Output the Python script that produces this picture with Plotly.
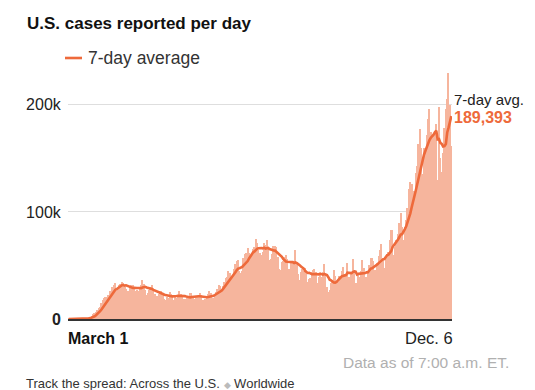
import plotly.graph_objects as go
import pandas as pd

# ---- Data (daily reported U.S. cases, March 1 - Dec. 6) ----
march = [8, 20, 24, 30, 70, 70, 110, 120, 180, 240, 330, 450, 560, 640, 900,
         1300, 1800, 2900, 4600, 5800, 7000, 8500, 10500, 11500, 14500, 18000,
         19500, 21000, 21000, 22000, 26000]
april = [25600, 29800, 32000, 33300, 25800, 29800, 31800, 32500, 35000, 33700,
         29800, 28000, 26000, 26500, 29500, 31500, 32000, 30000, 26000, 27000,
         26500, 29000, 31700, 36000, 33000, 27000, 22500, 24500, 27500, 30000]
may = [32000, 27000, 23500, 20500, 21500, 23000, 26000, 26000, 23000, 18500,
       17500, 20500, 20000, 25500, 23500, 22500, 18000, 21500, 19800, 21500,
       26000, 23500, 21500, 18500, 19000, 17000, 19300, 21800, 24000, 24000, 20200]
june = [18300, 21300, 19400, 21300, 24200, 22300, 17700, 17300, 18600, 20700,
        23000, 25700, 24500, 19700, 19500, 23800, 25600, 27700, 32000, 31000,
        26000, 31000, 35000, 38000, 39500, 45000, 43000, 39000, 40500, 47000]
july = [51000, 54000, 55000, 45000, 43000, 45000, 57000, 61000, 62000, 66000,
        62000, 59000, 61000, 65000, 67000, 75000, 71000, 64000, 62000, 60000,
        63000, 71000, 69000, 74000, 65000, 55000, 56000, 61000, 68000, 68000, 67000]
august = [58000, 47000, 46000, 53000, 54000, 58000, 60000, 56000, 47000, 45000,
          53000, 53000, 52000, 64000, 52000, 42000, 36000, 44000, 47000, 45000,
          48000, 46000, 35000, 37000, 38000, 44000, 46000, 47000, 44000, 34000, 39000]
september = [43000, 39000, 44000, 51000, 41000, 30000, 25000, 27000, 34000, 36000,
             46000, 40000, 34000, 36000, 40000, 39000, 45000, 49000, 42000, 36000,
             52000, 39000, 38000, 44000, 56000, 46000, 34000, 34000, 43000, 39000]
october = [45000, 55000, 48000, 36000, 39000, 44000, 50000, 57000, 57000, 54000,
           46000, 42000, 52000, 59000, 64000, 70000, 57000, 48000, 58000, 61000,
           63000, 74000, 83000, 83000, 60000, 67000, 74000, 79000, 90000, 99000, 86000]
november = [74000, 86000, 92000, 104000, 121000, 128000, 126000, 105000, 120000, 136000,
            143000, 163000, 177000, 160000, 135000, 160000, 160000, 172000, 187000, 196000,
            175000, 143000, 172000, 176000, 182000, 130000, 198000, 150000, 137000, 155000]
december = [178000, 196000, 205000, 230000, 200000, 162000]

start_date = "2020-03-01"
end_date = "2020-12-06"
y_tick_vals = [0, 100000, 200000]
y_tick_text = ["<b>0</b>", "100k", "200k"]
latest_avg_label = "189,393"

daily = march + april + may + june + july + august + september + october + november + december
dates = pd.date_range(start_date, end_date, freq="D")
series = pd.Series(daily, index=dates)
avg7 = series.rolling(7, min_periods=1).mean()

# ---- Styling ----
BAR = "#f6b59d"
LINE = "#ee6a3b"
FONT = "Liberation Sans, Arial, sans-serif"
OFF = 8                      # page body margin
W, H = 535 - OFF, 390 - OFF
L, R, T, B = 68 - OFF, 83, 62 - OFF, 71
pw, ph = W - L - R, H - T - B

def px(x):
    return (x - OFF - L) / pw

def py(y):
    return (H - B - (y - OFF)) / ph

fig = go.Figure()
fig.add_trace(go.Bar(x=dates, y=series.values, marker=dict(color=BAR, line=dict(width=0)),
                     hoverinfo="skip", showlegend=False))
fig.add_trace(go.Scatter(x=dates, y=avg7.values, mode="lines",
                         line=dict(color=LINE, width=2.6), hoverinfo="skip", showlegend=False))

fig.update_layout(
    width=W, height=H,
    margin=dict(l=L, r=R, t=T, b=B),
    paper_bgcolor="white", plot_bgcolor="white",
    bargap=0,
    font=dict(family=FONT, color="#222"),
    xaxis=dict(range=[pd.Timestamp(start_date) - pd.Timedelta(hours=12),
                      pd.Timestamp(end_date) + pd.Timedelta(hours=12)],
               showgrid=False, showticklabels=False, ticks="", zeroline=False,
               showline=True, linecolor="#333", linewidth=1.5, layer="below traces"),
    yaxis=dict(range=[0, 240000], tickvals=y_tick_vals, ticktext=y_tick_text,
               showgrid=True, gridcolor="#dedede", gridwidth=1, zeroline=False,
               ticks="outside", ticklen=3, tickcolor="rgba(0,0,0,0)",
               tickfont=dict(size=16, color="#222")),
)

ann = []
ann.append(dict(text="<b>U.S. cases reported per day</b>", x=px(27), y=py(23),
                xanchor="left", yanchor="middle", font=dict(size=17, color="#111")))
ann.append(dict(text="7-day average", x=px(88), y=py(58), xanchor="left", yanchor="middle",
                font=dict(size=17.5, color="#333")))
ann.append(dict(text="<b>March 1</b>", x=px(68), y=py(338), xanchor="left", yanchor="middle",
                font=dict(size=16, color="#111")))
ann.append(dict(text="Dec. 6", x=px(453), y=py(338), xanchor="right", yanchor="middle",
                font=dict(size=16.5, color="#222")))
ann.append(dict(text="7-day avg.", x=px(454), y=py(99), xanchor="left", yanchor="middle",
                font=dict(size=15, color="#222")))
ann.append(dict(text="<b>" + latest_avg_label + "</b>", x=px(454), y=py(117), xanchor="left",
                yanchor="middle", font=dict(size=16, color=LINE)))
ann.append(dict(text="Data as of 7:00 a.m. ET.", x=px(509), y=py(362), xanchor="right",
                yanchor="middle", font=dict(size=15.5, color="#b0b0b0")))
ann.append(dict(text="Track the spread: Across the U.S. <span style='color:#bbb;font-size:9px'>◆</span> Worldwide",
                x=px(26), y=py(383), xanchor="left", yanchor="middle",
                font=dict(size=13, color="#333")))
for a in ann:
    a.update(xref="paper", yref="paper", showarrow=False, borderpad=0, borderwidth=0)
fig.update_layout(annotations=ann)

fig.add_shape(type="line", xref="paper", yref="paper", x0=px(65), x1=px(82), y0=py(58), y1=py(58),
              line=dict(color=LINE, width=2.6))

fig.write_html("out.html")
